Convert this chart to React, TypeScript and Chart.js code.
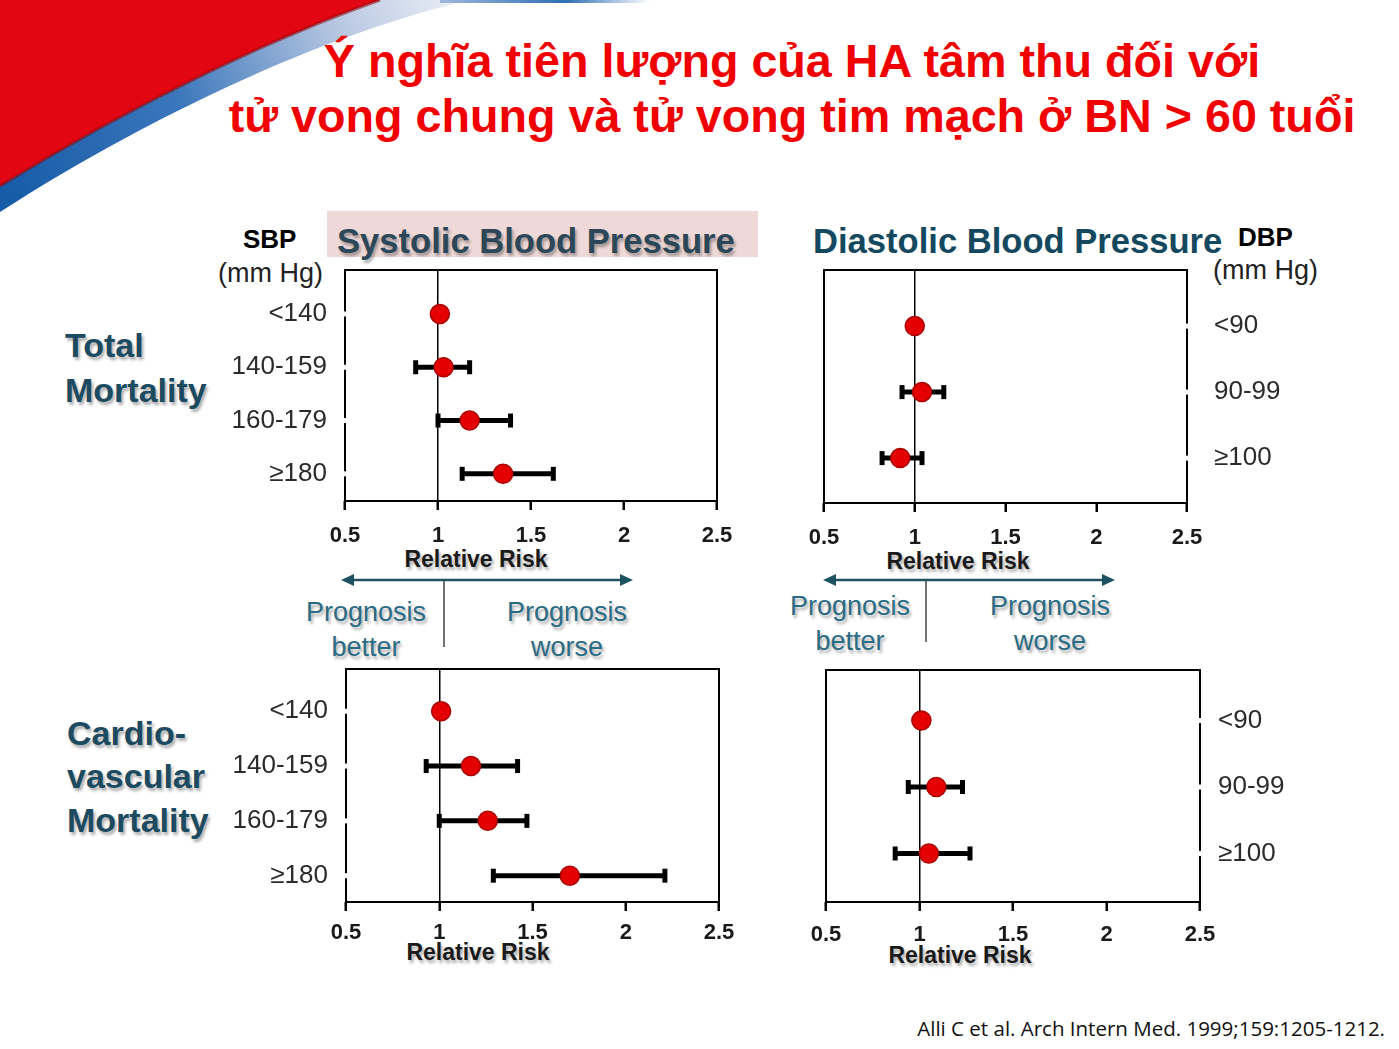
import React, { useEffect, useRef } from "react";
import { Chart, registerables } from "chart.js";
Chart.register(...registerables);

// ---------- data ----------
const sbpRows = ["<140", "140-159", "160-179", "≥180"];
const dbpRows = ["<90", "90-99", "≥100"];
const xTickStep = 0.5;
const xMin = 0.5;
const xMax = 2.5;

// Total mortality – systolic
const sbpTotalRR = [1.01, 1.03, 1.17, 1.35];
const sbpTotalLo = [null, 0.88, 1.0, 1.13];
const sbpTotalHi = [null, 1.17, 1.39, 1.62];

// Total mortality – diastolic
const dbpTotalRR = [1.0, 1.04, 0.92];
const dbpTotalLo = [null, 0.93, 0.82];
const dbpTotalHi = [null, 1.16, 1.04];

// Cardiovascular mortality – systolic
const sbpCvRR = [1.01, 1.17, 1.26, 1.7];
const sbpCvLo = [null, 0.93, 1.0, 1.29];
const sbpCvHi = [null, 1.42, 1.47, 2.21];

// Cardiovascular mortality – diastolic
const dbpCvRR = [1.01, 1.09, 1.05];
const dbpCvLo = [null, 0.94, 0.87];
const dbpCvHi = [null, 1.23, 1.27];

// ---------- styles ----------
const SANS = "'Liberation Sans', Arial, Helvetica, sans-serif";
const SHADOW = "2px 3px 3px rgba(0,0,0,0.32)";
const X_AXIS_H = 55;
const PAD_T = 50;
const PAD_B = 5;
const PAD_OUT = 10;
const PAD_IN = 40;

type PanelProps = {
  rows: string[];
  rr: number[];
  lo: (number | null)[];
  hi: (number | null)[];
  boxLeft: number;
  boxTop: number;
  boxW: number;
  boxH: number;
  side: "left" | "right";
  axisW: number;
  yMin: number;
  yMax: number;
  labelPad: number;
  tickPad: number;
};

function Panel(p: PanelProps) {
  const ref = useRef<HTMLCanvasElement>(null);
  const padL = p.side === "left" ? PAD_OUT : PAD_IN;
  const padR = p.side === "left" ? PAD_IN : PAD_OUT;
  const cLeft = p.side === "left" ? p.boxLeft - p.axisW - padL : p.boxLeft - padL;
  const cTop = p.boxTop - PAD_T;
  const cW = padL + p.axisW + p.boxW + padR;
  const cH = PAD_T + p.boxH + X_AXIS_H + PAD_B;

  useEffect(() => {
    const datasets: any[] = [
      {
        type: "scatter",
        data: p.rr.map((v, i) => ({ x: v, y: i })),
        pointRadius: 9.5,
        pointBackgroundColor: "rgb(228,0,0)",
        pointBorderColor: "rgb(170,0,0)",
        pointBorderWidth: 1.5,
        showLine: false,
        order: 0,
      },
    ];
    p.rows.forEach((_, i) => {
      if (p.lo[i] == null || p.hi[i] == null) return;
      datasets.push({
        type: "line",
        data: [
          { x: p.lo[i], y: i },
          { x: p.hi[i], y: i },
        ],
        borderColor: "#000",
        borderWidth: 5,
        pointStyle: "line",
        pointRadius: 7,
        pointRotation: 90,
        pointBorderWidth: 5,
        pointBorderColor: "#000",
        pointBackgroundColor: "#000",
        order: 1,
      });
    });

    const side = p.side;
    const boxPlugin = {
      id: "boxPlugin",
      beforeDatasetsDraw(chart: any) {
        const { ctx, chartArea: a } = chart;
        ctx.save();
        ctx.strokeStyle = "#000";
        ctx.lineWidth = 2;
        ctx.strokeRect(a.left, a.top, a.right - a.left, a.bottom - a.top);
        const ys = chart.scales.y;
        const xe = side === "left" ? a.left : a.right;
        ctx.fillStyle = "#fff";
        ys.ticks.forEach((_t: any, i: number) => {
          const py = ys.getPixelForTick(i);
          ctx.fillRect(xe - 3, py - 2.5, 6, 5);
        });
        ctx.restore();
      },
    };

    const chart = new Chart(ref.current as HTMLCanvasElement, {
      type: "scatter",
      data: { datasets },
      plugins: [boxPlugin],
      options: {
        animation: false,
        responsive: false,
        devicePixelRatio: 1,
        layout: { padding: { left: padL, right: padR, top: PAD_T, bottom: PAD_B } },
        plugins: { legend: { display: false }, tooltip: { enabled: false } },
        scales: {
          x: {
            type: "linear",
            min: xMin,
            max: xMax,
            ticks: {
              stepSize: xTickStep,
              autoSkip: false,
              maxRotation: 0,
              padding: p.tickPad,
              color: "#1a1a1a",
              font: { family: SANS, size: 22, weight: "bold" },
              callback: (v: any) => String(Number(v)),
            },
            grid: {
              color: (c: any) => (c.tick && c.tick.value === 1 ? "#000" : "rgba(0,0,0,0)"),
              lineWidth: 1.5,
              drawTicks: true,
              tickLength: 9,
              tickColor: "#000",
              tickWidth: 2.5,
            },
            border: { display: false },
            afterFit: (s: any) => {
              s.height = X_AXIS_H;
            },
          },
          y: {
            type: "linear",
            position: p.side,
            reverse: true,
            min: p.yMin,
            max: p.yMax,
            afterBuildTicks: (s: any) => {
              s.ticks = p.rows.map((_, i) => ({ value: i }));
            },
            ticks: {
              autoSkip: false,
              padding: p.labelPad,
              color: "#2b2b2b",
              font: { family: SANS, size: 26 },
              callback: (_v: any, i: number) => p.rows[i],
            },
            grid: { display: false, drawTicks: false, tickLength: 0 },
            border: { display: false },
            afterFit: (s: any) => {
              s.width = p.axisW;
            },
          },
        },
      } as any,
    });
    return () => chart.destroy();
  }, []);

  return (
    <canvas
      ref={ref}
      width={cW}
      height={cH}
      style={{ position: "absolute", left: cLeft, top: cTop, width: cW, height: cH }}
    />
  );
}

function Txt(props: { x?: number; y: number; w?: number; size: number; bold?: boolean; color: string; align?: any; shadow?: boolean; lh?: number; family?: string; right?: number; children: any }) {
  const st: any = {
    position: "absolute",
    top: props.y,
    fontFamily: props.family || SANS,
    fontSize: props.size,
    fontWeight: props.bold ? "bold" : "normal",
    color: props.color,
    lineHeight: (props.lh || props.size) + "px",
    whiteSpace: "nowrap",
    textAlign: props.align || "left",
    textShadow: props.shadow ? SHADOW : "none",
  };
  if (props.right !== undefined) st.right = props.right;
  else st.left = props.x;
  if (props.w) st.width = props.w;
  return <div style={st}>{props.children}</div>;
}

function Arrow(props: { x1: number; x2: number; y: number; divX: number; divY2: number }) {
  const c = "#1d5360";
  return (
    <svg width={1399} height={1049} style={{ position: "absolute", left: 0, top: 0, pointerEvents: "none" }}>
      <line x1={props.x1 + 10} y1={props.y} x2={props.x2 - 10} y2={props.y} stroke={c} strokeWidth={2.5} />
      <polygon points={`${props.x1},${props.y} ${props.x1 + 13},${props.y - 6} ${props.x1 + 13},${props.y + 6}`} fill={c} />
      <polygon points={`${props.x2},${props.y} ${props.x2 - 13},${props.y - 6} ${props.x2 - 13},${props.y + 6}`} fill={c} />
      <line x1={props.divX} y1={props.y} x2={props.divX} y2={props.divY2} stroke="#444" strokeWidth={1.5} />
    </svg>
  );
}

export default function App() {
  const teal = "#1c4b61";
  const prog = "#2c6b84";
  return (
    <div style={{ position: "absolute", left: 0, top: 0, width: 1399, height: 1049, background: "#fff", overflow: "hidden" }}>
      {/* decorative swoosh */}
      <svg width={700} height={240} style={{ position: "absolute", left: 0, top: 0 }}>
        <defs>
          <linearGradient id="blueBand" x1="0" y1="212" x2="470" y2="0" gradientUnits="userSpaceOnUse">
            <stop offset="0" stopColor="#155aa6" />
            <stop offset="0.4" stopColor="#3a76bb" />
            <stop offset="0.75" stopColor="#b9c8e2" />
            <stop offset="1" stopColor="#eef1f8" />
          </linearGradient>
          <linearGradient id="topLine" x1="440" y1="0" x2="650" y2="0" gradientUnits="userSpaceOnUse">
            <stop offset="0" stopColor="#9fb7dc" />
            <stop offset="0.6" stopColor="#2f6fb6" />
            <stop offset="1" stopColor="#ffffff" />
          </linearGradient>
        </defs>
        <path d="M380,0 L470,0 C 330,32 150,115 0,212 L0,186 C 140,100 280,35 380,0 Z" fill="url(#blueBand)" />
        <rect x={440} y={0} width={210} height={3} fill="url(#topLine)" />
        <path d="M0,0 L380,0 C 280,35 140,100 0,186 Z" fill="#e20613" />
        <path d="M380,0 C 280,35 140,100 0,186" stroke="#8a0008" strokeWidth={3} fill="none" opacity={0.55} />
      </svg>

      {/* title */}
      <div
        style={{
          position: "absolute",
          left: 192,
          top: 34,
          width: 1200,
          textAlign: "center",
          fontFamily: SANS,
          fontWeight: "bold",
          fontSize: 46.7,
          lineHeight: "55px",
          color: "#f00000",
          whiteSpace: "nowrap",
        }}
      >
        <div>Ý nghĩa tiên lượng của HA tâm thu đối với</div>
        <div>tử vong chung và tử vong tim mạch ở BN &gt; 60 tuổi</div>
      </div>

      {/* column headers */}
      <div style={{ position: "absolute", left: 327, top: 211, width: 431, height: 46, background: "#eed9d8" }} />
      <Txt x={337} y={224} size={34.6} bold color="#2c4757" shadow>Systolic Blood Pressure</Txt>
      <Txt x={813} y={224} size={34.6} bold color="#13485e">Diastolic Blood Pressure</Txt>
      <Txt x={243} y={226} size={26} bold color="#000">SBP</Txt>
      <Txt x={218} y={260} size={27} color="#222">(mm Hg)</Txt>
      <Txt x={1238} y={224} size={26} bold color="#000">DBP</Txt>
      <Txt x={1213} y={257} size={27} color="#222">(mm Hg)</Txt>

      {/* row headers */}
      <Txt x={65} y={328} size={34} bold color={teal} shadow>Total</Txt>
      <Txt x={65} y={373} size={34} bold color={teal} shadow>Mortality</Txt>
      <Txt x={67} y={716} size={34} bold color={teal} shadow>Cardio-</Txt>
      <Txt x={67} y={759} size={34} bold color={teal} shadow>vascular</Txt>
      <Txt x={67} y={803} size={34} bold color={teal} shadow>Mortality</Txt>

      {/* axis titles */}
      <Txt x={376} y={548} w={200} align="center" size={23} bold color="#1a1a1a" shadow>Relative Risk</Txt>
      <Txt x={858} y={550} w={200} align="center" size={23} bold color="#1a1a1a" shadow>Relative Risk</Txt>
      <Txt x={378} y={941} w={200} align="center" size={23} bold color="#1a1a1a" shadow>Relative Risk</Txt>
      <Txt x={860} y={944} w={200} align="center" size={23} bold color="#1a1a1a" shadow>Relative Risk</Txt>

      {/* prognosis annotations */}
      <Arrow x1={341} x2={633} y={580} divX={444} divY2={647} />
      <Arrow x1={823} x2={1115} y={580} divX={926} divY2={642} />
      <Txt x={266} y={595} w={200} align="center" size={27} lh={35} color={prog} shadow>
        Prognosis<br />better
      </Txt>
      <Txt x={467} y={595} w={200} align="center" size={27} lh={35} color={prog} shadow>
        Prognosis<br />worse
      </Txt>
      <Txt x={750} y={589} w={200} align="center" size={27} lh={35} color={prog} shadow>
        Prognosis<br />better
      </Txt>
      <Txt x={950} y={589} w={200} align="center" size={27} lh={35} color={prog} shadow>
        Prognosis<br />worse
      </Txt>

      {/* charts */}
      <Panel rows={sbpRows} rr={sbpTotalRR} lo={sbpTotalLo} hi={sbpTotalHi} boxLeft={345} boxTop={270} boxW={372} boxH={231} side="left" axisW={140} yMin={-0.825} yMax={3.51} labelPad={18} tickPad={13} />
      <Panel rows={dbpRows} rr={dbpTotalRR} lo={dbpTotalLo} hi={dbpTotalHi} boxLeft={824} boxTop={270} boxW={363} boxH={233} side="right" axisW={140} yMin={-0.85} yMax={2.68} labelPad={27} tickPad={13} />
      <Panel rows={sbpRows} rr={sbpCvRR} lo={sbpCvLo} hi={sbpCvHi} boxLeft={346} boxTop={669} boxW={373} boxH={233} side="left" axisW={140} yMin={-0.77} yMax={3.48} labelPad={18} tickPad={9} />
      <Panel rows={dbpRows} rr={dbpCvRR} lo={dbpCvLo} hi={dbpCvHi} boxLeft={826} boxTop={670} boxW={374} boxH={232} side="right" axisW={140} yMin={-0.76} yMax={2.73} labelPad={18} tickPad={11} />

      {/* citation */}
      <Txt right={14} y={1018} size={20.5} color="#111" family="'Open Sans', 'Noto Sans', sans-serif">
        Alli C et al. Arch Intern Med. 1999;159:1205-1212.
      </Txt>
    </div>
  );
}
